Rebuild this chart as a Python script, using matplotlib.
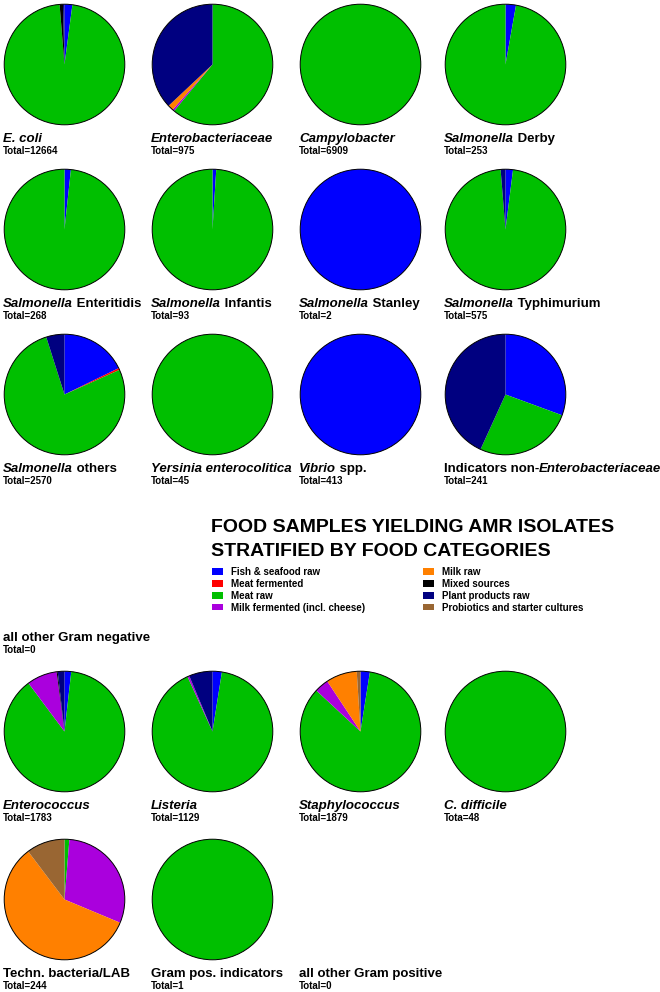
import matplotlib
matplotlib.use('Agg')
import matplotlib.pyplot as plt
from matplotlib.patches import Patch, Circle

plt.rcParams['font.family'] = ['Liberation Sans', 'DejaVu Sans']

W, H = 660, 992

categories = ['Fish & seafood raw', 'Meat fermented', 'Meat raw',
              'Milk fermented (incl. cheese)', 'Milk raw', 'Mixed sources',
              'Plant products raw', 'Probiotics and starter cultures']
colors = ['#0000ff', '#ff0000', '#00bf00', '#aa00dd',
          '#ff8000', '#000000', '#000080', '#996633']

# shares in percent, same order as categories
ecoli = [2.1, 0, 96.6, 0, 0, 0.9, 0.4, 0]
enterobacteriaceae = [0, 0, 61.0, 0.5, 1.5, 0, 37.0, 0]
campylobacter = [0, 0, 100, 0, 0, 0, 0, 0]
derby = [2.8, 0, 97.2, 0, 0, 0, 0, 0]
enteritidis = [1.7, 0, 98.3, 0, 0, 0, 0, 0]
infantis = [1.0, 0, 99.0, 0, 0, 0, 0, 0]
stanley = [100, 0, 0, 0, 0, 0, 0, 0]
typhimurium = [2.0, 0, 96.7, 0, 0, 0, 1.3, 0]
salm_others = [17.8, 0.5, 76.8, 0, 0, 0, 4.9, 0]
yersinia = [0, 0, 100, 0, 0, 0, 0, 0]
vibrio = [100, 0, 0, 0, 0, 0, 0, 0]
ind_non_entero = [30.6, 0, 26.2, 0, 0, 0, 43.2, 0]
other_neg = [0, 0, 0, 0, 0, 0, 0, 0]

enterococcus = [1.8, 0, 88.0, 8.1, 0, 0.3, 1.8, 0]
listeria = [2.5, 0, 90.7, 0.5, 0, 0, 6.3, 0]
staphylococcus = [2.5, 0, 84.4, 3.8, 8.3, 0, 0, 1.0]
cdifficile = [0, 0, 100, 0, 0, 0, 0, 0]
techn_lab = [0, 0, 1.3, 30.0, 58.4, 0, 0, 10.3]
gram_pos_ind = [0, 0, 100, 0, 0, 0, 0, 0]
other_pos = [0, 0, 0, 0, 0, 0, 0, 0]

neg_names = ['*E. coli*', '*Enterobacteriaceae*', '*Campylobacter*', '*Salmonella* Derby',
             '*Salmonella* Enteritidis', '*Salmonella* Infantis', '*Salmonella* Stanley',
             '*Salmonella* Typhimurium', '*Salmonella* others', '*Yersinia enterocolitica*',
             '*Vibrio* spp.', 'Indicators non-*Enterobacteriaceae*', 'all other Gram negative']
neg_totals = [12664, 975, 6909, 253, 268, 93, 2, 575, 2570, 45, 413, 241, 0]
neg_shares = [ecoli, enterobacteriaceae, campylobacter, derby, enteritidis, infantis,
              stanley, typhimurium, salm_others, yersinia, vibrio, ind_non_entero, other_neg]

pos_names = ['*Enterococcus*', '*Listeria*', '*Staphylococcus*', '*C. difficile*',
             'Techn. bacteria/LAB', 'Gram pos. indicators', 'all other Gram positive']
pos_totals = [1783, 1129, 1879, 48, 244, 1, 0]
pos_shares = [enterococcus, listeria, staphylococcus, cdifficile, techn_lab,
              gram_pos_ind, other_pos]

fig = plt.figure(figsize=(W / 100, H / 100), dpi=100)
bg = fig.add_axes([0, 0, 1, 1])
bg.set_xlim(0, W)
bg.set_ylim(H, 0)
bg.axis('off')

col_left = [3, 151, 299, 444]
D = 123


def draw_title(x, y, name):
    prev = None
    for i, seg in enumerate(name.split('*')):
        if not seg:
            continue
        style = 'italic' if i % 2 else 'normal'
        if prev is None:
            prev = bg.text(x, y, seg, fontsize=9.5, weight='bold', style=style,
                           ha='left', va='center')
        else:
            prev = bg.annotate(seg, xy=(1, 0), xycoords=prev, fontsize=9.5,
                               weight='bold', style=style, ha='left', va='bottom')


def draw_group(names, totals, shares, row_tops):
    for k, (name, tot, vals) in enumerate(zip(names, totals, shares)):
        x0 = col_left[k % 4]
        y0 = row_tops[k // 4]
        if tot > 0:
            ax = fig.add_axes([x0 / W, 1 - (y0 + D) / H, D / W, D / H])
            ax.pie(vals, colors=colors, startangle=90, counterclock=False,
                   wedgeprops=dict(linewidth=0))
            ax.add_patch(Circle((0, 0), 1, fill=False, lw=0.7, ec='black'))
            ax.set_xlim(-1.02, 1.02)
            ax.set_ylim(-1.02, 1.02)
        draw_title(x0, y0 + 136, name)
        # "Tota" typo kept from the original figure
        lab = 'Tota' if name == '*C. difficile*' else 'Total'
        bg.text(x0, y0 + 148, f'{lab}={tot}', fontsize=7, weight='bold',
                ha='left', va='center')


draw_group(neg_names, neg_totals, neg_shares, [3, 168, 333, 502])
draw_group(pos_names, pos_totals, pos_shares, [670, 838])

bg.text(211, 527, 'FOOD SAMPLES YIELDING AMR ISOLATES', fontsize=14, weight='bold',
        ha='left', va='center')
bg.text(211, 552, 'STRATIFIED BY FOOD CATEGORIES', fontsize=14, weight='bold',
        ha='left', va='center')

handles = [Patch(facecolor=c, edgecolor='none', label=l) for c, l in zip(colors, categories)]
bg.legend(handles=handles, loc='upper left', bbox_to_anchor=(212, 567),
          bbox_transform=bg.transData, ncol=2, frameon=False, borderpad=0,
          borderaxespad=0, prop=dict(weight='bold', size=7), handlelength=1.1,
          handleheight=0.6, handletextpad=0.85, columnspacing=6.0, labelspacing=0.2)

fig.savefig('out.png', dpi=100)
